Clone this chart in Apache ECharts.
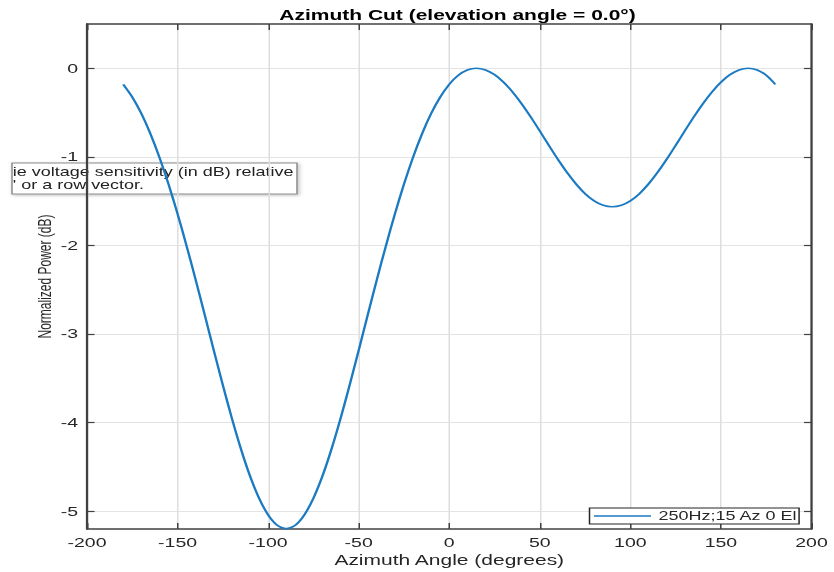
<!DOCTYPE html>
<html>
<head>
<meta charset="utf-8">
<script src="https://cdn.jsdelivr.net/npm/echarts@6/dist/echarts.min.js"></script>
<style>html,body{margin:0;padding:0;background:#fff;overflow:hidden}
#c{width:556px;height:572px;transform:scaleX(1.5);transform-origin:0 0}</style>
</head>
<body>
<div id="c"></div>
<script>
var azimuth = [-180,-175,-170,-165,-160,-155,-150,-145,-140,-135,-130,-125,-120,-115,-110,-105,-100,-95,-90,
  -85,-80,-75,-70,-65,-60,-55,-50,-45,-40,-35,-30,-25,-20,-15,-10,-5,0,
  5,10,15,20,25,30,35,40,45,50,55,60,65,70,75,80,85,90,
  95,100,105,110,115,120,125,130,135,140,145,150,155,160,165,170,175,180];
var powerDb = [-0.181,-0.325,-0.511,-0.738,-1.005,-1.308,-1.643,-2.006,-2.388,-2.784,-3.183,-3.576,-3.951,-4.297,-4.602,-4.852,-5.040,-5.157,-5.196,
  -5.157,-5.040,-4.852,-4.602,-4.297,-3.951,-3.576,-3.183,-2.784,-2.388,-2.006,-1.643,-1.308,-1.005,-0.738,-0.511,-0.325,-0.181,
  -0.079,-0.019,0,-0.019,-0.072,-0.157,-0.268,-0.401,-0.550,-0.708,-0.870,-1.028,-1.175,-1.306,-1.415,-1.496,-1.546,-1.563,
  -1.546,-1.496,-1.415,-1.306,-1.175,-1.028,-0.870,-0.708,-0.550,-0.401,-0.268,-0.157,-0.072,-0.019,0,-0.019,-0.079,-0.181];
var yTicks = [-5, -4, -3, -2, -1, 0];
var seriesName = '250Hz;15 Az 0 El';
var titleText = 'Azimuth Cut (elevation angle = 0.0°)';
var xLabel = 'Azimuth Angle (degrees)';
var yLabel = 'Normalized Power (dB)';
var tipLines = ['ie voltage sensitivity (in dB) relative', '\' or a row vector.'];

var data = azimuth.map(function(a, i){ return [a, powerDb[i]]; });
var axisCol = '#404040';
var txtCol = '#262626';
var lineCol = '#1a7ac2';
var font = '"Liberation Sans", Arial, sans-serif';

var chart = echarts.init(document.getElementById('c'), null, {renderer: 'svg'});
chart.setOption({
  animation: false,
  backgroundColor: '#fff',
  title: {
    text: titleText, left: 300, top: 3, textAlign: 'center',
    textStyle: {fontFamily: font, fontSize: 14, fontWeight: 'bold', color: '#000'}
  },
  grid: {left: 58, right: 15, top: 24, bottom: 40},
  legend: {
    left: 393, top: 508, padding: [2, 1, 2, 3],
    borderColor: txtCol, borderWidth: 1, backgroundColor: '#fff',
    itemWidth: 38, itemHeight: 1.6, itemGap: 4,
    textStyle: {fontFamily: font, fontSize: 12, color: txtCol},
    data: [{name: seriesName, icon: 'rect', itemStyle: {color: lineCol}}]
  },
  xAxis: [{
    type: 'value', min: -200, max: 200, interval: 50,
    name: xLabel, nameLocation: 'middle', nameGap: 24, nameMoveOverlap: false,
    nameTextStyle: {fontFamily: font, fontSize: 14, color: txtCol},
    axisLine: {show: true, onZero: false, lineStyle: {color: axisCol, width: 1.5}},
    axisTick: {show: true, inside: true, length: 6, lineStyle: {color: axisCol, width: 1}},
    axisLabel: {fontFamily: font, fontSize: 13, color: txtCol, margin: 7},
    splitLine: {show: true, lineStyle: {color: '#dedede', width: 1}}
  }, {
    type: 'value', min: -200, max: 200, interval: 50, position: 'top',
    axisLine: {show: true, onZero: false, lineStyle: {color: axisCol, width: 1.5}},
    axisTick: {show: true, inside: true, length: 6, lineStyle: {color: axisCol, width: 1}},
    axisLabel: {show: false}, splitLine: {show: false}
  }],
  yAxis: [{
    type: 'value', min: -5.2, max: 0.5,
    axisLabel: {fontFamily: font, fontSize: 13, color: txtCol, margin: 6, customValues: yTicks},
    axisTick: {show: true, inside: true, length: 5, lineStyle: {color: axisCol, width: 1.2}, customValues: yTicks},
    splitLine: {show: true, lineStyle: {color: '#e3e3e3', width: 1}},
    axisLine: {show: true, onZero: false, lineStyle: {color: axisCol, width: 1.5}},
    name: yLabel, nameLocation: 'middle', nameGap: 22, nameMoveOverlap: false,
    nameTextStyle: {fontFamily: font, fontSize: 12, color: txtCol}
  }, {
    type: 'value', min: -5.2, max: 0.5, position: 'right',
    axisLabel: {show: false},
    axisTick: {show: true, inside: true, length: 5, lineStyle: {color: axisCol, width: 1.2}, customValues: yTicks},
    splitLine: {show: false},
    axisLine: {show: true, onZero: false, lineStyle: {color: axisCol, width: 1.5}}
  }],
  series: [{
    name: seriesName, type: 'line', data: data, smooth: 0.3,
    showSymbol: false, symbol: 'none',
    lineStyle: {color: lineCol, width: 1.6},
    itemStyle: {color: lineCol}
  }],
  graphic: [{
    type: 'rect', shape: {x: 8, y: 163, width: 190, height: 31},
    style: {fill: '#fff', stroke: '#8a8a8a', lineWidth: 1, shadowColor: 'rgba(0,0,0,0.25)', shadowBlur: 3, shadowOffsetX: 1, shadowOffsetY: 1}
  }, {
    type: 'text', x: 8.5, y: 166,
    style: {text: tipLines[0], font: '12px "Liberation Sans", Arial, sans-serif', fill: '#222'}
  }, {
    type: 'text', x: 8.5, y: 179,
    style: {text: tipLines[1], font: '12px "Liberation Sans", Arial, sans-serif', fill: '#222'}
  }]
});
</script>
</body>
</html>
